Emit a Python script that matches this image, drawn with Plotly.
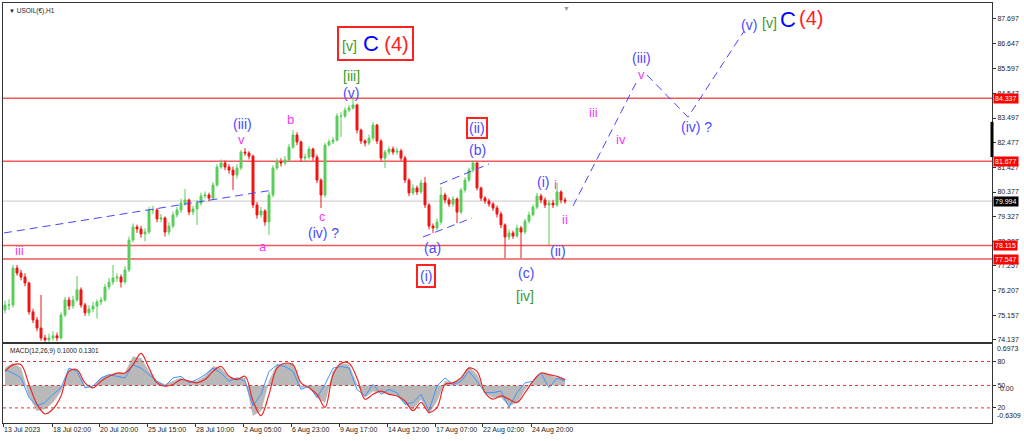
import plotly.graph_objects as go

# ---------------- data ----------------
first_open = 75.40
close = [75.61, 75.61, 77.17, 76.96, 76.79, 76.54, 75.32, 74.98, 74.64, 74.22,
         74.14, 74.22, 74.31, 74.22, 75.19, 75.82, 75.57, 75.82, 76.25, 75.61,
         75.28, 75.44, 75.57, 75.74, 75.82, 76.37, 76.58, 76.75, 76.79, 76.58,
         77.09, 78.35, 78.90, 78.82, 78.61, 78.69, 79.62, 79.62, 79.24, 79.28,
         78.69, 78.94, 79.41, 79.62, 79.91, 80.04, 79.53, 79.66, 79.91, 80.21,
         80.25, 80.12, 80.67, 81.43, 81.60, 81.43, 81.30, 81.09, 81.39, 82.06,
         82.02, 81.89, 79.83, 79.41, 79.58, 79.11, 80.25, 81.39, 81.64, 81.60,
         81.73, 82.27, 82.78, 82.49, 81.81, 81.85, 82.19, 81.85, 80.88, 80.25,
         82.36, 82.49, 82.57, 83.58, 83.58, 83.83, 83.92, 84.05, 82.99, 82.53,
         82.44, 82.65, 83.20, 82.53, 81.81, 82.06, 82.19, 82.06, 82.11, 81.81,
         80.88, 80.34, 80.55, 80.38, 80.76, 79.83, 78.94, 78.86, 79.11, 80.25,
         80.04, 79.87, 80.08, 79.53, 80.46, 80.88, 81.30, 81.60, 80.55, 80.12,
         80.00, 79.87, 79.70, 79.45, 78.99, 78.48, 78.65, 78.52, 78.86, 78.69,
         79.15, 79.41, 79.74, 80.21, 80.04, 79.83, 79.91, 79.83, 80.38, 80.04,
         79.99]
high = [75.80, 75.85, 77.30, 77.30, 77.10, 76.95, 76.60, 75.45, 75.10, 76.03,
        74.35, 74.40, 74.50, 74.45, 75.30, 75.95, 75.95, 76.00, 76.84, 76.35,
        75.70, 75.60, 75.75, 75.85, 75.95, 76.50, 76.75, 77.30, 76.95, 76.90,
        77.25, 78.50, 79.05, 79.00, 78.95, 78.85, 79.75, 79.80, 79.70, 79.45,
        79.35, 79.10, 79.55, 79.75, 80.10, 80.50, 80.10, 79.80, 80.05, 80.35,
        80.40, 80.35, 80.80, 81.55, 81.75, 81.70, 81.55, 81.45, 81.55, 82.15,
        82.23, 82.10, 81.95, 79.95, 79.75, 79.65, 80.40, 81.50, 81.80, 81.80,
        81.90, 82.40, 82.99, 82.90, 82.55, 82.00, 82.30, 82.25, 81.95, 80.95,
        82.45, 82.60, 82.70, 83.70, 83.75, 83.95, 84.05, 84.34, 84.10, 83.05,
        82.60, 82.80, 83.33, 83.25, 82.60, 82.15, 82.30, 82.30, 82.25, 82.20,
        81.90, 80.95, 80.70, 80.65, 80.90, 81.01, 79.90, 79.05, 79.25, 80.59,
        80.35, 80.15, 80.20, 80.15, 80.55, 81.00, 81.40, 81.73, 81.65, 80.60,
        80.20, 80.10, 79.95, 79.80, 79.55, 79.05, 78.80, 78.75, 79.00, 78.95,
        79.25, 79.55, 79.85, 80.34, 80.30, 80.15, 80.05, 80.05, 80.76, 80.45,
        80.15]
low = [75.25, 75.40, 75.50, 76.85, 76.65, 76.40, 75.20, 74.85, 74.50, 74.10,
       74.06, 74.06, 74.10, 74.08, 74.15, 75.10, 75.40, 75.45, 75.75, 75.50,
       75.15, 75.15, 75.30, 75.04, 75.60, 75.75, 76.25, 76.45, 76.60, 76.35,
       76.50, 77.00, 78.25, 78.65, 78.45, 78.30, 78.60, 79.45, 79.10, 79.10,
       78.50, 78.55, 78.85, 79.30, 79.50, 79.80, 79.40, 79.40, 78.99, 79.80,
       80.10, 79.98, 80.05, 80.60, 81.35, 81.30, 81.15, 80.46, 80.95, 81.30,
       81.90, 81.75, 79.70, 79.25, 79.30, 78.95, 78.56, 80.15, 81.30, 81.45,
       81.50, 81.65, 82.20, 82.35, 81.65, 81.65, 81.75, 81.70, 80.75, 79.70,
       80.15, 82.30, 82.40, 82.50, 82.70, 83.50, 83.75, 83.85, 82.85, 82.40,
       82.30, 82.35, 82.55, 82.40, 81.70, 81.39, 81.95, 81.95, 81.95, 81.70,
       80.75, 80.20, 80.25, 80.25, 80.30, 79.70, 78.80, 78.65, 78.75, 79.00,
       79.90, 79.75, 79.75, 79.07, 79.45, 80.35, 80.80, 81.20, 80.45, 80.00,
       79.88, 79.75, 79.58, 79.30, 78.85, 77.59, 78.35, 78.40, 78.45, 77.59,
       78.60, 79.05, 79.35, 79.65, 79.90, 79.70, 78.14, 79.70, 79.75, 79.90,
       79.88]
bar_index = list(range(len(close)))

level_lines = [84.337, 81.677, 78.115, 77.547]
last_price = 79.994
price_ticks = [87.697, 86.647, 85.597, 84.547, 83.497, 82.477, 81.427,
               80.377, 79.327, 78.307, 77.257, 76.207, 75.157, 74.137]

time_tick_pos = [-0.5, 11.75, 23.5, 35.5, 47.5, 59.5, 71.5, 83.5, 95.5, 107.5, 119.25, 131.5]
time_tick_text = ["13 Jul 2023", "18 Jul 02:00", "20 Jul 20:00", "25 Jul 15:00",
                  "28 Jul 10:00", "2 Aug 05:00", "6 Aug 23:00", "9 Aug 17:00",
                  "14 Aug 12:00", "17 Aug 07:00", "22 Aug 02:00", "24 Aug 20:00"]

macd_index = list(range(0, 141, 2))
macd_hist = [0.292, 0.374, 0.292, -0.176, -0.424, -0.396, -0.286, -0.094, 0.264, 0.264,
             -0.011, -0.011, 0.127, 0.182, 0.209, 0.209, 0.484, 0.457, 0.237, 0.072,
             0.017, 0.072, 0.127, 0.072, 0.072, 0.154, 0.319, 0.292, 0.127, 0.127,
             0.127, -0.506, -0.424, 0.072, 0.347, 0.374, 0.374, -0.039, -0.011, -0.204,
             -0.286, 0.237, 0.374, 0.347, 0.017, -0.204, -0.094, -0.121, -0.149, -0.176,
             -0.314, -0.396, -0.231, -0.479, -0.259, 0.072, 0.044, 0.127, 0.319, 0.182,
             -0.121, -0.204, -0.204, -0.341, -0.286, -0.066, 0.072, 0.209, 0.182, 0.127,
             0.099]
macd_red = [0.237, 0.347, 0.347, 0.017, -0.314, -0.479, -0.396, -0.176, 0.237, 0.264,
            0.044, -0.039, 0.072, 0.154, 0.209, 0.209, 0.347, 0.539, 0.292, 0.044,
            -0.011, 0.017, 0.099, 0.072, 0.044, 0.099, 0.237, 0.319, 0.154, 0.099,
            0.154, -0.259, -0.506, -0.149, 0.292, 0.374, 0.347, 0.044, -0.039, -0.149,
            -0.369, 0.182, 0.374, 0.374, 0.127, -0.231, -0.149, -0.094, -0.149, -0.176,
            -0.259, -0.424, -0.286, -0.451, -0.369, 0.017, 0.044, 0.127, 0.292, 0.237,
            -0.121, -0.231, -0.176, -0.231, -0.286, -0.121, 0.072, 0.209, 0.182, 0.154,
            0.099]
macd_blue = [0.264, 0.209, 0.127, -0.204, -0.341, -0.286, -0.149, -0.039, 0.292, 0.237,
             -0.039, -0.011, 0.127, 0.182, 0.154, 0.127, 0.347, 0.292, 0.182, 0.072,
             -0.011, 0.127, 0.154, 0.044, 0.099, 0.182, 0.292, 0.209, 0.072, 0.127,
             0.072, -0.341, -0.149, 0.237, 0.347, 0.319, 0.237, -0.066, -0.011, -0.204,
             0.017, 0.292, 0.319, 0.292, -0.066, -0.176, 0.017, -0.149, -0.066, -0.121,
             -0.314, -0.286, -0.149, -0.424, -0.011, 0.127, 0.017, 0.072, 0.237, 0.072,
             -0.121, -0.121, -0.094, -0.369, -0.121, 0.044, 0.072, 0.209, -0.039, 0.127,
             0.072]
macd_levels = [0.403, 0.0, -0.377]
macd_level_text = ["80", "50", "20"]
macd_max, macd_min = 0.6973, -0.6309

trend_x, trend_y = [-0.25, 67], [78.65, 80.46]
chan_up_x, chan_up_y = [108.75, 121], [80.71, 81.56]
chan_lo_x, chan_lo_y = [104.5, 116.75], [78.48, 79.28]
proj1_x, proj1_y = [142, 158.25], [79.79, 85.14]
proj2_x, proj2_y = [160.5, 170.75, 184.75], [85.31, 83.54, 87.16]

# ---------------- styling ----------------
FONT = "Liberation Sans"
BLU = "#4a4aff"
MAG = "#f03cf0"
GRN = "#3a9a2a"
RED = "#ff2020"
LINE_RED = "rgb(238,90,90)"
DASH_BLUE = "rgb(70,70,255)"
AX = 7

opens = [first_open] + close[:-1]

fig = go.Figure()
fig.add_trace(go.Candlestick(
    x=bar_index, open=opens, high=high, low=low, close=close,
    xaxis="x", yaxis="y",
    increasing=dict(line=dict(color="rgb(90,205,90)", width=1), fillcolor="rgb(90,205,90)"),
    decreasing=dict(line=dict(color="rgb(240,20,20)", width=1), fillcolor="rgb(240,20,20)"),
    whiskerwidth=0, showlegend=False, hoverinfo="skip"))

for xs, ys in [(trend_x, trend_y), (chan_up_x, chan_up_y), (chan_lo_x, chan_lo_y),
               (proj1_x, proj1_y), (proj2_x, proj2_y)]:
    fig.add_trace(go.Scatter(x=xs, y=ys, mode="lines", xaxis="x", yaxis="y",
                             line=dict(color=DASH_BLUE, width=1, dash="8px,5px"),
                             showlegend=False, hoverinfo="skip"))

# MACD pane
fig.add_trace(go.Scatter(x=macd_index, y=macd_hist, mode="lines", xaxis="x2", yaxis="y2",
                         fill="tozeroy", fillcolor="rgb(185,185,185)",
                         line=dict(color="rgb(185,185,185)", width=0.5),
                         showlegend=False, hoverinfo="skip"))
fig.add_trace(go.Scatter(x=macd_index, y=macd_blue, mode="lines", xaxis="x2", yaxis="y2",
                         line=dict(color="rgb(60,150,255)", width=1),
                         showlegend=False, hoverinfo="skip"))
fig.add_trace(go.Scatter(x=macd_index, y=macd_red, mode="lines", xaxis="x2", yaxis="y2",
                         line=dict(color="rgb(235,40,40)", width=1.2, shape="spline"),
                         showlegend=False, hoverinfo="skip"))

shapes = []
for lv in level_lines:
    shapes.append(dict(type="line", xref="paper", x0=0, x1=1, yref="y", y0=lv, y1=lv,
                       line=dict(color=LINE_RED, width=1.5), layer="below"))
shapes.append(dict(type="line", xref="paper", x0=0, x1=1, yref="y", y0=last_price, y1=last_price,
                   line=dict(color="rgb(200,200,200)", width=1), layer="below"))
for lv in macd_levels:
    shapes.append(dict(type="line", xref="paper", x0=0, x1=1, yref="y2", y0=lv, y1=lv,
                       line=dict(color="rgb(235,50,50)", width=1, dash="3px,3px"), layer="above"))
# black scroll marker on right border
shapes.append(dict(type="line", xref="paper", x0=1, x1=1, yref="paper", y0=0.633, y1=0.717,
                   line=dict(color="black", width=3)))

annotations = []


def lab(x, y, text, color, size, **kw):
    d = dict(x=x, y=y, xref="x", yref="y", text=text, showarrow=False,
             font=dict(family=FONT, size=size, color=color))
    d.update(kw)
    annotations.append(d)


labels = [
    (3.5, 77.93, "iii", MAG, 13), (59.25, 83.24, "(iii)", BLU, 14), (59, 82.61, "v", MAG, 13),
    (64.5, 78.06, "a", MAG, 13), (71.25, 83.45, "b", MAG, 13), (79.25, 79.36, "c", MAG, 13),
    (79.6, 78.65, "(iv) ?", BLU, 14), (86.5, 85.27, "[iii]", GRN, 14), (86.5, 84.55, "(v)", BLU, 14),
    (118, 82.15, "(b)", BLU, 14), (106.75, 78.02, "(a)", BLU, 14), (130.25, 76.96, "(c)", BLU, 14),
    (130, 75.99, "[iv]", GRN, 14), (134.5, 80.80, "(i)", BLU, 14), (137.5, 80.71, "i", MAG, 13),
    (140, 79.20, "ii", MAG, 13), (138.25, 77.89, "(ii)", BLU, 14), (147, 83.71, "iii", MAG, 13),
    (154, 82.61, "iv", MAG, 13), (159, 86.03, "(iii)", BLU, 14), (159, 85.35, "v", MAG, 13),
    (172.9, 83.12, "(iv) ?", BLU, 14), (186, 87.42, "(v)", BLU, 14), (191, 87.50, "[v]", GRN, 14),
    (195.75, 87.67, "C", "#0000ff", 22), (201.5, 87.71, "(4)", RED, 20),
]
for x, y, t, c, s in labels:
    lab(x, y, t, c, s)

# boxed labels
lab(92.5, 86.66,
    '<span style="color:%s;font-size:14px">[v]</span><span style="color:#0000ff;font-size:22px"> C</span>'
    '<span style="color:%s;font-size:20px"> (4)</span>' % (GRN, RED),
    BLU, 14, bordercolor="#ff2020", borderwidth=2, borderpad=3)
lab(118, 83.07, "(ii)", BLU, 14, bordercolor="#ff2020", borderwidth=2, borderpad=1)
lab(105.25, 76.84, "(i)", BLU, 14, bordercolor="#ff2020", borderwidth=2, borderpad=2)

# price boxes on the right axis
for lv in level_lines:
    annotations.append(dict(x=1, xref="paper", y=lv, yref="y", xanchor="left", text="%.3f" % lv,
                            showarrow=False, bgcolor="#ff0000", borderpad=1, xshift=1,
                            font=dict(family=FONT, size=AX, color="white")))
annotations.append(dict(x=1, xref="paper", y=last_price, yref="y", xanchor="left", text="%.3f" % last_price,
                        showarrow=False, bgcolor="#000000", borderpad=1, xshift=1,
                        font=dict(family=FONT, size=AX, color="white")))
# MACD scale edge labels
annotations.append(dict(x=1, xref="paper", y=macd_max, yref="y2", xanchor="left", yanchor="top",
                        text="%.4f" % macd_max, showarrow=False, xshift=3, yshift=1,
                        font=dict(family=FONT, size=AX, color="#222")))
annotations.append(dict(x=1, xref="paper", y=macd_min, yref="y2", xanchor="left", yanchor="bottom",
                        text="%.4f" % macd_min, showarrow=False, xshift=3, yshift=2,
                        font=dict(family=FONT, size=AX, color="#222")))
annotations.append(dict(x=1, xref="paper", y=0, yref="y2", xanchor="left", yanchor="middle",
                        text="0.00", showarrow=False, xshift=6, yshift=-3,
                        font=dict(family=FONT, size=AX, color="#222")))
# titles
annotations.append(dict(x=0, xref="paper", y=1, yref="paper", xanchor="left", yanchor="top",
                        text='<span style="font-size:6px">▼</span> USOIL(€),H1', showarrow=False,
                        xshift=4, yshift=-2, font=dict(family=FONT, size=6.5, color="#222")))
annotations.append(dict(x=0, xref="paper", y=macd_max, yref="y2", xanchor="left", yanchor="top",
                        text="MACD(12,26,9) 0.1000 0.1301", showarrow=False,
                        xshift=5, yshift=-1, font=dict(family=FONT, size=6.5, color="#222")))
annotations.append(dict(x=140.25, xref="x", y=1, yref="paper", yanchor="top", text="▼",
                        showarrow=False, font=dict(family=FONT, size=7, color="#999")))

axis_common = dict(showgrid=False, zeroline=False, showline=True, linecolor="#333",
                   linewidth=1, mirror=True)
x_range = [-0.5, 246.75]

fig.update_layout(
    width=1024, height=441,
    margin=dict(l=3, r=32, t=3, b=18),
    paper_bgcolor="white", plot_bgcolor="white",
    showlegend=False,
    xaxis=dict(domain=[0, 1], anchor="y", range=x_range, showticklabels=False, ticks="",
               rangeslider=dict(visible=False), **axis_common),
    yaxis=dict(domain=[0.1929, 1], anchor="x", side="right", range=[74.05, 88.35],
               tickvals=price_ticks, ticktext=["%.3f" % v for v in price_ticks],
               ticks="outside", ticklen=3, tickcolor="#333",
               tickfont=dict(family=FONT, size=AX, color="#222"), **axis_common),
    xaxis2=dict(domain=[0, 1], anchor="y2", range=x_range, matches="x",
                tickvals=time_tick_pos, ticktext=time_tick_text, ticks="outside", ticklen=3,
                tickcolor="#333", ticklabelposition="outside right", tickangle=0,
                tickfont=dict(family=FONT, size=AX, color="#222"), **axis_common),
    yaxis2=dict(domain=[0, 0.1881], anchor="x2", side="right", range=[macd_min, macd_max],
                tickvals=macd_levels, ticktext=macd_level_text, ticks="outside", ticklen=3,
                tickcolor="#333", tickfont=dict(family=FONT, size=AX, color="#222"), **axis_common),
    shapes=shapes,
    annotations=annotations,
)

fig.write_html("out.html", config={"displayModeBar": False},
               post_script="document.body.style.margin='0px';")
